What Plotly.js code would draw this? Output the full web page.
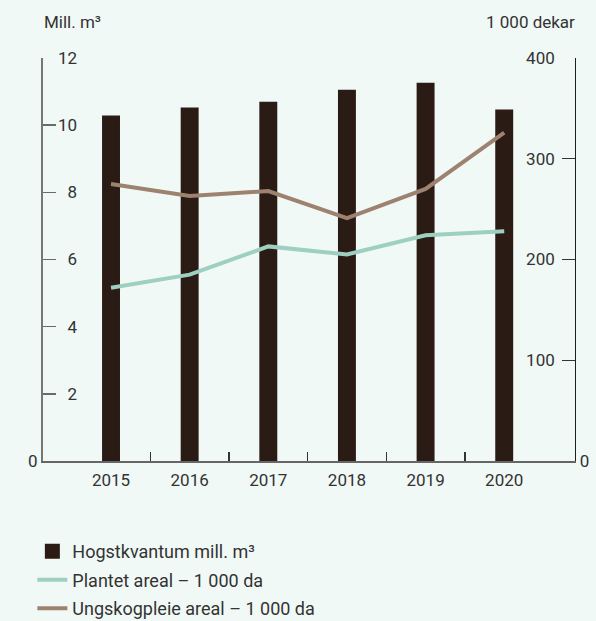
<!DOCTYPE html>
<html>
<head>
<meta charset="utf-8">
<script src="https://cdn.plot.ly/plotly-3.0.1.min.js"></script>
<style>
  html, body { margin: 0; padding: 0; background: #f0f9f6; }
  #chart { width: 596px; height: 621px; }
</style>
</head>
<body>
<div id="chart"></div>
<script>
// ---- data ----
const years = ['2015', '2016', '2017', '2018', '2019', '2020'];
const hogstkvantum = [10.24, 10.48, 10.65, 11.01, 11.22, 10.42];      // mill. m3 (left axis)
const plantetAreal = [172, 185, 213, 205, 224, 228];                    // 1 000 da (right axis)
const ungskogpleieAreal = [275, 263, 268, 241, 270, 326];               // 1 000 da (right axis)
const leftTicks = [0, 2, 4, 6, 8, 10, 12];
const rightTicks = [0, 100, 200, 300, 400];
const boundaryTicks = [0.5, 1.5, 2.5, 3.5, 4.5];
const seriesNames = ['Hogstkvantum mill. m³', 'Plantet areal – 1 000 da', 'Ungskogpleie areal – 1 000 da'];

const FONT = 'Roboto, "Open Sans", sans-serif';
const TXT = '#333333';
const BG = '#f0f9f6';
const XR = [-0.865, 5.9];
const FS = 17;

const traces = [
  {
    type: 'bar', x: years, y: hogstkvantum, name: seriesNames[0],
    marker: { color: '#2b1b15', line: { color: '#2b1b15', width: 3 } }, width: 0.19,
    xaxis: 'x', yaxis: 'y', legendgroup: 'a', hoverinfo: 'skip'
  },
  {
    type: 'scatter', mode: 'lines', x: years, y: plantetAreal, name: seriesNames[1],
    line: { color: '#9dd0c0', width: 4 },
    xaxis: 'x', yaxis: 'y2', legendgroup: 'b', hoverinfo: 'skip'
  },
  {
    type: 'scatter', mode: 'lines', x: years, y: ungskogpleieAreal, name: seriesNames[2],
    line: { color: '#9e8270', width: 4 },
    xaxis: 'x', yaxis: 'y2', legendgroup: 'c', hoverinfo: 'skip'
  },
  // empty helper traces so the helper axes get drawn
  { type: 'scatter', x: [], y: [], xaxis: 'x2', yaxis: 'y', showlegend: false, hoverinfo: 'skip' },
  { type: 'scatter', x: [], y: [], xaxis: 'x', yaxis: 'y3', showlegend: false, hoverinfo: 'skip' },
  { type: 'scatter', x: [], y: [], xaxis: 'x', yaxis: 'y4', showlegend: false, hoverinfo: 'skip' }
];

const layout = {
  width: 596, height: 621,
  margin: { l: 43, r: 21, t: 58, b: 160, pad: 0, autoexpand: false },
  paper_bgcolor: BG, plot_bgcolor: BG,
  font: { family: FONT, size: FS, color: TXT },
  showlegend: true,
  legend: {
    x: -0.02, xanchor: 'left', y: -0.179, yanchor: 'top',
    bgcolor: 'rgba(0,0,0,0)', traceorder: 'grouped', tracegroupgap: 2,
    font: { family: FONT, size: 18, color: TXT }
  },
  bargap: 0,
  xaxis: {
    type: 'category', range: XR, showgrid: false, zeroline: false,
    showline: true, linecolor: '#666666', linewidth: 1.5,
    ticks: 'outside', ticklen: 3, tickcolor: 'rgba(0,0,0,0)',
    tickfont: { family: FONT, size: FS, color: TXT }
  },
  xaxis2: {
    overlaying: 'x', anchor: 'y', side: 'bottom', range: XR, type: 'linear',
    tickvals: boundaryTicks, ticks: 'inside', ticklen: 9, tickwidth: 1.3, tickcolor: '#333333',
    showticklabels: false, showgrid: false, zeroline: false, showline: false
  },
  yaxis: {
    range: [0, 12], side: 'left', showgrid: false, zeroline: false,
    showline: true, linecolor: '#767676', linewidth: 2,
    tickvals: leftTicks, ticktext: leftTicks.map(v => v === 0 ? String(v) : ''),
    ticks: 'inside', ticklen: 13, tickwidth: 1.5, tickcolor: '#6a6a6a',
    tickfont: { family: FONT, size: FS, color: TXT }
  },
  yaxis2: {
    overlaying: 'y', side: 'right', anchor: 'x', range: [0, 400],
    showgrid: false, zeroline: false,
    showline: true, linecolor: '#1e1e1e', linewidth: 1.3,
    tickvals: rightTicks, ticktext: rightTicks.map(v => v === 0 ? String(v) : ''),
    ticks: 'inside', ticklen: 13, tickwidth: 1.3, tickcolor: '#333333',
    tickfont: { family: FONT, size: FS, color: TXT }
  },
  yaxis3: {
    overlaying: 'y', anchor: 'free', side: 'left', position: 0.064, range: [0, 12],
    tickvals: leftTicks.slice(1), ticks: '', showline: false, showgrid: false, zeroline: false,
    tickfont: { family: FONT, size: FS, color: TXT }
  },
  yaxis4: {
    overlaying: 'y', anchor: 'free', side: 'left', position: 0.962, range: [0, 400],
    tickvals: rightTicks.slice(1), ticks: '', showline: false, showgrid: false, zeroline: false,
    tickfont: { family: FONT, size: FS, color: TXT }
  },
  annotations: [
    { text: 'Mill. m³', xref: 'paper', yref: 'paper', x: -0.002, y: 1.0, yshift: 36,
      xanchor: 'left', yanchor: 'middle', showarrow: false, font: { family: FONT, size: FS, color: TXT } },
    { text: '1 000 dekar', xref: 'paper', yref: 'paper', x: 1.004, y: 1.0, yshift: 36,
      xanchor: 'right', yanchor: 'middle', showarrow: false, font: { family: FONT, size: FS, color: TXT } }
  ]
};

Plotly.newPlot('chart', traces, layout, { displayModeBar: false, staticPlot: true });
</script>
</body>
</html>
